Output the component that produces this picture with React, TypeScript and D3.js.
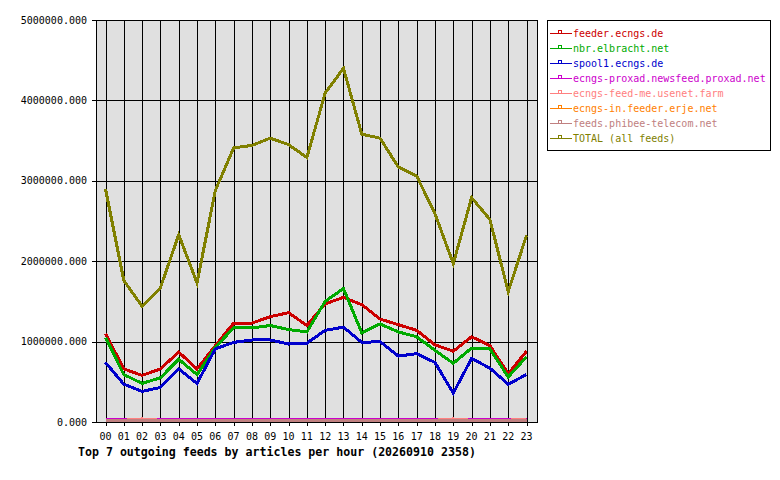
import * as d3 from "d3"

// hours of the day
const hours = ["00", "01", "02", "03", "04", "05", "06", "07", "08", "09", "10", "11",
  "12", "13", "14", "15", "16", "17", "18", "19", "20", "21", "22", "23"]

// articles per hour
const feederEcngs = [1100000, 660000, 580000, 660000, 870000, 660000, 950000, 1230000, 1230000, 1310000, 1360000, 1200000,
  1470000, 1550000, 1460000, 1280000, 1210000, 1140000, 960000, 880000, 1060000, 950000, 600000, 880000]
const nbrElbracht = [1050000, 590000, 480000, 550000, 780000, 590000, 930000, 1170000, 1170000, 1200000, 1150000, 1120000,
  1500000, 1660000, 1110000, 1220000, 1120000, 1060000, 890000, 730000, 920000, 910000, 560000, 810000]
const spool1Ecngs = [740000, 470000, 380000, 430000, 660000, 480000, 910000, 990000, 1020000, 1020000, 970000, 980000,
  1140000, 1180000, 990000, 1000000, 820000, 850000, 740000, 360000, 790000, 670000, 470000, 590000]
const proxad = [36000, 36000, 36000, 36000, 36000, 36000, 36000, 36000, 36000, 36000, 36000, 36000,
  36000, 36000, 36000, 36000, 36000, 36000, 36000, 36000, 36000, 36000, 36000, 36000]
const feedMe = [22000, 22000, 38000, 22000, 22000, 22000, 22000, 22000, 22000, 22000, 22000, 22000,
  22000, 22000, 22000, 22000, 22000, 22000, 22000, 38000, 22000, 22000, 22000, 38000]
const erje = [22000, 22000, 22000, 22000, 22000, 22000, 22000, 22000, 22000, 22000, 22000, 22000,
  22000, 22000, 22000, 22000, 22000, 22000, 22000, 22000, 22000, 22000, 22000, 22000]
const phibee = [22000, 22000, 22000, 22000, 22000, 22000, 22000, 22000, 22000, 22000, 22000, 22000,
  22000, 22000, 22000, 22000, 22000, 22000, 22000, 22000, 22000, 22000, 22000, 22000]
const totalAll = [2900000, 1760000, 1440000, 1670000, 2330000, 1730000, 2880000, 3410000, 3440000, 3530000, 3450000, 3290000,
  4090000, 4400000, 3580000, 3530000, 3170000, 3060000, 2590000, 1970000, 2790000, 2520000, 1620000, 2320000]

const feedNames = ["feeder.ecngs.de", "nbr.elbracht.net", "spool1.ecngs.de", "ecngs-proxad.newsfeed.proxad.net",
  "ecngs-feed-me.usenet.farm", "ecngs-in.feeder.erje.net", "feeds.phibee-telecom.net", "TOTAL (all feeds)"]
const feedColors = ["#cc0000", "#00aa00", "#0000cc", "#cc00cc", "#ff8080", "#ff8000", "#c08080", "#808000"]
const feedValues = [feederEcngs, nbrElbracht, spool1Ecngs, proxad, feedMe, erje, phibee, totalAll]

const yTicks = [0, 1000000, 2000000, 3000000, 4000000, 5000000]

const font = "'DejaVu Sans Mono', monospace"

export default function App() {
  // plot frame
  const left = 96
  const right = 537
  const top = 20
  const bottom = 422

  const x = d3.scalePoint<string>().domain(hours).range([105.5, 526.5])
  const y = d3.scaleLinear().domain([0, 5000000]).range([bottom, top])

  const line = d3
    .line<number>()
    .x((_, i) => x(hours[i]) as number)
    .y((d) => y(d))

  return (
    <svg
      width={780}
      height={480}
      style={{ position: "absolute", left: 0, top: 0, background: "#ffffff" }}
      fontFamily={font}
    >
      <rect x={0} y={0} width={780} height={480} fill="#ffffff" />

      {/* plot background */}
      <rect x={left} y={top} width={right - left} height={bottom - top} fill="#e0e0e0" />

      {/* vertical grid + ticks */}
      {hours.map((h) => (
        <line
          key={"vx" + h}
          x1={Math.round(x(h) as number) + 0.5}
          x2={Math.round(x(h) as number) + 0.5}
          y1={top}
          y2={bottom + 4}
          stroke="#000"
          strokeWidth={1}
          shapeRendering="crispEdges"
        />
      ))}

      {/* horizontal grid + ticks */}
      {yTicks.map((t) => (
        <line
          key={"hy" + t}
          x1={left - 4}
          x2={right}
          y1={Math.round(y(t)) + 0.5}
          y2={Math.round(y(t)) + 0.5}
          stroke="#000"
          strokeWidth={1}
          shapeRendering="crispEdges"
        />
      ))}

      {/* frame */}
      <rect
        x={left + 0.5}
        y={top + 0.5}
        width={right - left}
        height={bottom - top}
        fill="none"
        stroke="#000"
        strokeWidth={1}
        shapeRendering="crispEdges"
      />

      {/* series */}
      {feedValues.map((vals, i) => (
        <path
          key={"s" + i}
          d={line(vals) || ""}
          fill="none"
          stroke={feedColors[i]}
          strokeWidth={3}
          shapeRendering="crispEdges"
        />
      ))}

      {/* y labels */}
      {yTicks.map((t) => (
        <text key={"yl" + t} x={left - 9} y={y(t) + 3.5} textAnchor="end" fontSize={10} fill="#000">
          {t.toFixed(3)}
        </text>
      ))}

      {/* x labels */}
      {hours.map((h) => (
        <text key={"xl" + h} x={x(h)} y={440} textAnchor="middle" fontSize={10} fill="#000">
          {h}
        </text>
      ))}

      {/* title */}
      <text x={78} y={456} fontSize={11.6} fontWeight="bold" fill="#000">
        Top 7 outgoing feeds by articles per hour (20260910 2358)
      </text>

      {/* legend */}
      <rect x={547.5} y={20.5} width={223} height={130} fill="#ffffff" stroke="#000" strokeWidth={1} shapeRendering="crispEdges" />
      {feedNames.map((name, i) => {
        const ly = 33 + i * 15
        return (
          <g key={"lg" + i}>
            <line x1={550} x2={572} y1={ly + 0.5} y2={ly + 0.5} stroke={feedColors[i]} strokeWidth={1} shapeRendering="crispEdges" />
            <rect x={558.5} y={ly - 2.5} width={3} height={3} fill="none" stroke={feedColors[i]} strokeWidth={1} shapeRendering="crispEdges" />
            <text x={573} y={ly + 4} fontSize={10} fill={feedColors[i]}>
              {name}
            </text>
          </g>
        )
      })}
    </svg>
  )
}
